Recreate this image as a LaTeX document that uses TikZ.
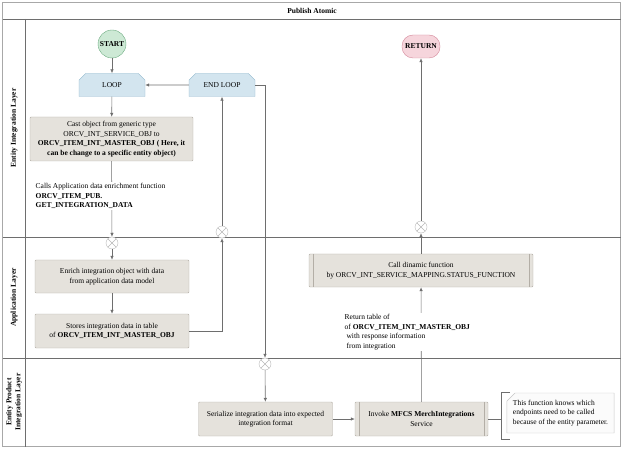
\documentclass[tikz,border=0pt]{standalone}
\usepackage{fontspec}
\setmainfont{Liberation Serif}
\usepackage{xcolor}
\usetikzlibrary{
  arrows.meta,
  shapes.misc,
  positioning
}
\definecolor{procfill}{HTML}{E5E2DC}
\definecolor{procline}{HTML}{B3AEA6}
\definecolor{loopfill}{HTML}{D3E5EF}
\definecolor{loopline}{HTML}{8DB5CB}
\definecolor{startfill}{HTML}{CDE9D5}
\definecolor{startline}{HTML}{6BAA80}
\definecolor{retfill}{HTML}{F6D5DC}
\definecolor{retline}{HTML}{D4899B}
\definecolor{laneline}{HTML}{6E6E6E}
\definecolor{frameline}{HTML}{A8A8A8}

\begin{document}
\begin{tikzpicture}[
  x=1pt, y=-1pt,
  every node/.style = {font=\fontsize{7.5}{9.5}\selectfont, inner sep=1pt},
  proc/.style = {shape=rectangle, draw=procline, fill=procfill,
    align=center, rounded corners=1pt},
  predef/.style = {proc, path picture={
      \draw[procline] ([xshift=4pt]path picture bounding box.north west)
        -- ([xshift=4pt]path picture bounding box.south west);
      \draw[procline] ([xshift=-4pt]path picture bounding box.north east)
        -- ([xshift=-4pt]path picture bounding box.south east);}},
  loopbox/.style = {shape=chamfered rectangle,
    chamfered rectangle corners={north west, north east},
    chamfered rectangle xsep=7pt, draw=loopline, fill=loopfill,
    minimum width=66pt, minimum height=23pt},
  gate/.style = {shape=circle, draw=gray!55, fill=white,
    minimum size=12pt, inner sep=0pt, path picture={
      \draw[gray!55] (path picture bounding box.north west)
        -- (path picture bounding box.south east);
      \draw[gray!55] (path picture bounding box.south west)
        -- (path picture bounding box.north east);}},
  lbl/.style = {fill=white, align=left, inner sep=1.5pt},
  flow/.style = {draw=laneline, line width=0.6pt,
    -{Latex[length=4pt,width=3.5pt]}},
  link/.style = {draw=laneline, line width=0.6pt},
  lane/.style = {draw=laneline, line width=0.7pt},
  lanetitle/.style = {rotate=90, font=\fontsize{7.5}{9}\selectfont\bfseries,
    align=center}]
  \useasboundingbox (0,0) rectangle (624,449);

  % pool and lanes
  \draw[frameline, line width=1.6pt] (2.5,2.5) rectangle (620.5,446.5);
  \draw[lane] (2.5,19) -- (620.5,19);
  \draw[lane] (25,19) -- (25,446.5);
  \draw[lane] (2.5,237) -- (620.5,237);
  \draw[lane] (2.5,358) -- (620.5,358);
  \node[font=\fontsize{7.5}{9}\selectfont\bfseries] (title) at (312,11) {Publish Atomic};
  \node[lanetitle] (lane1) at (14,128) {Entity Integration Layer};
  \node[lanetitle] (lane2) at (14,297.5) {Application Layer};
  \node[lanetitle] (lane3) at (14,402) {Entity Product\\Integration Layer};

  % entity integration layer
  \node[shape=circle, draw=startline, fill=startfill, minimum size=28pt,
    font=\fontsize{7.5}{9}\selectfont\bfseries, inner sep=0pt] (start) at (112,44) {START};
  \node[loopbox] (loop) at (112,85) {LOOP};
  \node[loopbox] (endloop) at (222,85) {END LOOP};
  \node[proc, minimum width=163pt, minimum height=44pt] (cast) at (111.5,139)
    {Cast object from generic type\\ORCV\_INT\_SERVICE\_OBJ to\\
     \textbf{ORCV\_ITEM\_INT\_MASTER\_OBJ ( Here, it}\\
     \textbf{can be change to a specific entity object)}};
  \node[shape=rectangle, draw=retline, fill=retfill, rounded corners=11pt,
    minimum width=38pt, minimum height=23pt, inner sep=0pt,
    font=\fontsize{7.5}{9}\selectfont\bfseries] (ret) at (421,46.5) {RETURN};
  \node[gate] (gB) at (222,232) {};
  \node[gate] (gC) at (421,227) {};

  % application layer
  \node[gate] (gA) at (112,243) {};
  \node[proc, minimum width=154pt, minimum height=33pt] (enrich) at (112,276.5)
    {Enrich integration object with data\\from application data model};
  \node[proc, minimum width=154pt, minimum height=34pt] (stores) at (112,331)
    {Stores integration data in table\\of \textbf{ORCV\_ITEM\_INT\_MASTER\_OBJ}};
  \node[predef, minimum width=224pt, minimum height=33pt] (call) at (421,270.5)
    {Call dinamic function\\by ORCV\_INT\_SERVICE\_MAPPING.STATUS\_FUNCTION};

  % entity product integration layer
  \node[gate] (gD) at (265,364) {};
  \node[proc, minimum width=134pt, minimum height=34pt] (serial) at (265.5,419)
    {Serialize integration data into expected\\integration format};
  \node[predef, minimum width=133pt, minimum height=34pt] (invoke) at (421.5,419)
    {Invoke \textbf{MFCS MerchIntegrations}\\Service};
  \node[shape=chamfered rectangle, chamfered rectangle corners=north west,
    chamfered rectangle xsep=5pt, draw=gray!45, fill=gray!3, align=left,
    minimum width=107pt, minimum height=40pt] (note) at (560.5,413)
    {This function knows which\\endpoints need to be called\\because of the entity parameter.};
  \coordinate (brk) at (501,419);

  % connectors
  \draw[flow] (start) -- (loop);
  \draw[flow] (endloop) -- (loop);
  \draw[flow] (loop) -- (cast);
  \draw[flow] (cast) -- (gA);
  \node[lbl, anchor=west] (callslbl) at (34,196)
    {Calls Application data enrichment function\\
     \textbf{ORCV\_ITEM\_PUB.}\\\textbf{GET\_INTEGRATION\_DATA}};
  \draw[flow] (gA) -- (enrich);
  \draw[flow] (enrich) -- (stores);
  \draw[flow] (stores.east) -| (gB);
  \draw[flow] (gB) -- (endloop);
  \draw[flow] (endloop.east) -| (gD);
  \draw[flow] (gD) -- (serial);
  \draw[flow] (serial) -- (invoke);
  \draw[flow] (invoke) -- (call);
  \node[lbl, anchor=west] (retlbl) at (343,332)
    {Return table of\\of \textbf{ORCV\_ITEM\_INT\_MASTER\_OBJ}\\
     \ with response information\\\ from integration};
  \draw[flow] (call) -- (gC);
  \draw[flow] (gC) -- (ret);
  \draw[link] (invoke) -- (brk);
  \draw[link] (brk |- 0,392) ++(9,0) -- ++(-9,0) -- (brk |- 0,439) -- ++(9,0);
\end{tikzpicture}
\end{document}
